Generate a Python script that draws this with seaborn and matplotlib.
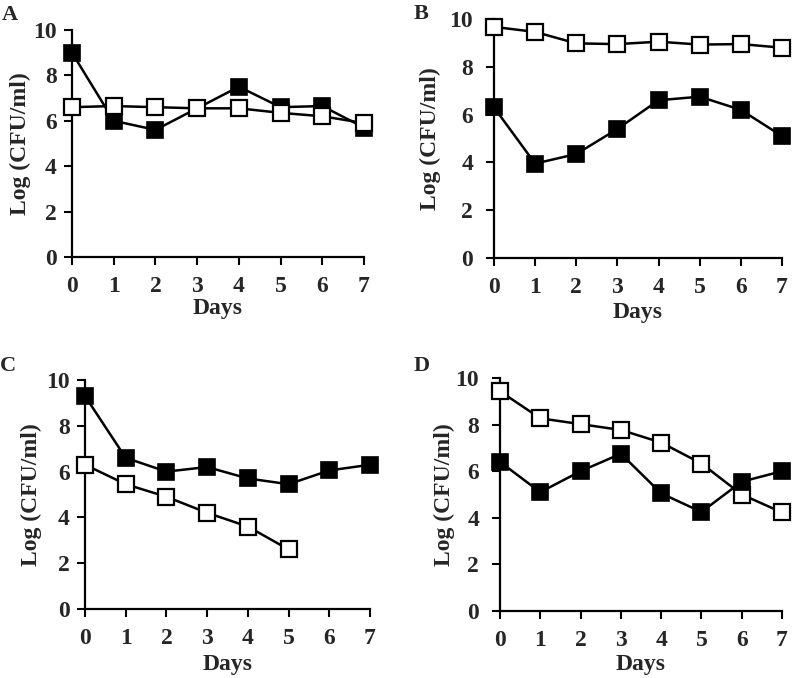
import matplotlib
matplotlib.use("Agg")
import matplotlib.pyplot as plt
import seaborn as sns
import pandas as pd

sns.set_style("ticks")
plt.rcParams['font.family'] = ['Liberation Serif', 'DejaVu Serif']
plt.rcParams['font.weight'] = 'bold'

days = [0, 1, 2, 3, 4, 5, 6, 7]

a_filled = [9.0, 6.0, 5.6, 6.55, 7.5, 6.6, 6.65, 5.7]
a_open = [6.6, 6.65, 6.6, 6.55, 6.55, 6.35, 6.2, 5.9]

b_filled = [6.3, 3.95, 4.35, 5.4, 6.6, 6.75, 6.2, 5.1]
b_open = [9.67, 9.46, 8.98, 8.95, 9.05, 8.93, 8.95, 8.8]

c_filled = [9.3, 6.6, 6.0, 6.2, 5.7, 5.45, 6.05, 6.3]
c_open = [6.3, 5.45, 4.9, 4.2, 3.6, 2.6]

d_filled = [6.4, 5.1, 6.0, 6.75, 5.05, 4.25, 5.55, 6.0]
d_open = [9.43, 8.27, 8.02, 7.77, 7.23, 6.33, 5.0, 4.23]

panel_labels = ["A", "B", "C", "D"]
yticks = [0, 2, 4, 6, 8, 10]
xlabel = "Days"
ylabel = "Log (CFU/ml)"

W, H = 792, 678
fig = plt.figure(figsize=(W / 100, H / 100), dpi=100)

# axes boxes in pixels: left, right, top(y=10), bottom(y=0)
boxes = [
    (72, 364, 30, 257),
    (494, 782, 19, 258),
    (85, 370, 380, 609),
    (500, 782, 378, 611),
]
label_pos = [(2, 20), (414, 19), (0, 371), (414, 371)]
ylabel_x = [20, 430, 31, 444]          # pixel x centre of y label
xlabel_top = [298, 302, 654, 654]      # pixel y of x label box top
ytick_pad = [5, 9, 5, 9]
data = [(a_filled, a_open), (b_filled, b_open), (c_filled, c_open), (d_filled, d_open)]

FS = 17
for i, ((l, r, t, b), (filled, opn)) in enumerate(zip(boxes, data)):
    ax = fig.add_axes([l / W, 1 - b / H, (r - l) / W, (b - t) / H])
    df_f = pd.DataFrame({"Day": days[:len(filled)], "v": filled})
    df_o = pd.DataFrame({"Day": days[:len(opn)], "v": opn})
    zf, zo = (3, 4) if i != 3 else (4, 3)
    sns.lineplot(data=df_f, x="Day", y="v", ax=ax, color="black", marker="s",
                 markersize=12, markerfacecolor="black", markeredgecolor="black",
                 markeredgewidth=1.2, linewidth=1.8, clip_on=False, zorder=zf)
    sns.lineplot(data=df_o, x="Day", y="v", ax=ax, color="black", marker="s",
                 markersize=12, markerfacecolor="white", markeredgecolor="black",
                 markeredgewidth=1.6, linewidth=1.8, clip_on=False, zorder=zo)
    ax.set_xlim(0, 7)
    ax.set_ylim(0, 10)
    ax.set_yticks(yticks)
    ax.set_xticks(days)
    ax.set_xlabel(xlabel, fontsize=FS, fontweight="bold")
    ax.set_ylabel(ylabel, fontsize=FS, fontweight="bold", va="center")
    ax.tick_params(axis="both", labelsize=FS, length=6, width=1.5, direction="out",
                   color="black")
    ax.tick_params(axis="x", pad=8)
    ax.tick_params(axis="y", pad=ytick_pad[i])
    for lab in ax.get_xticklabels() + ax.get_yticklabels():
        lab.set_fontweight("bold")
    sns.despine(ax=ax)
    for s in ("left", "bottom"):
        ax.spines[s].set_linewidth(1.6)
        ax.spines[s].set_color("black")
    ax.yaxis.set_label_coords((ylabel_x[i] - l) / (r - l), 0.5)
    ax.xaxis.set_label_coords(0.5, (b - xlabel_top[i]) / (b - t))
    lx, ly = label_pos[i]
    fig.text(lx / W, 1 - ly / H, panel_labels[i], fontsize=16, fontweight="bold",
             ha="left", va="baseline")

fig.savefig("out.png", dpi=100, facecolor="white")
